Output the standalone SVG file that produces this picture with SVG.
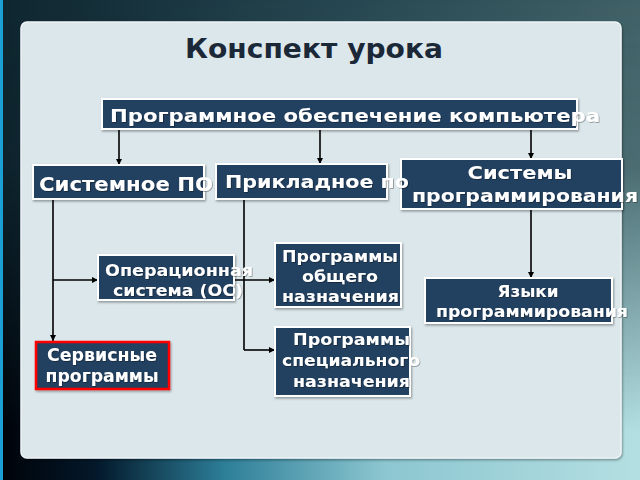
<svg xmlns="http://www.w3.org/2000/svg" width="640" height="480" viewBox="0 0 640 480">
<defs>
<linearGradient id="bgH" x1="0" y1="0" x2="1" y2="0">
<stop offset="0" stop-color="#000308"/>
<stop offset="0.15" stop-color="#03182a"/>
<stop offset="0.35" stop-color="#2d7e98"/>
<stop offset="0.6" stop-color="#8cc6d0"/>
<stop offset="1" stop-color="#b4dfe2"/>
</linearGradient>
<linearGradient id="topH" x1="0" y1="0" x2="1" y2="0">
<stop offset="0" stop-color="#0e2630"/>
<stop offset="0.5" stop-color="#24444e"/>
<stop offset="1" stop-color="#3f6066"/>
</linearGradient>
<linearGradient id="fadeV" x1="0" y1="0" x2="0" y2="1">
<stop offset="0" stop-color="#fff" stop-opacity="1"/>
<stop offset="0.35" stop-color="#fff" stop-opacity="0.9"/>
<stop offset="0.9" stop-color="#fff" stop-opacity="0"/>
</linearGradient>
<mask id="topMask"><rect width="640" height="480" fill="url(#fadeV)"/></mask>
<filter id="sh" x="-10%" y="-10%" width="130%" height="140%">
<feDropShadow dx="1" dy="1.5" stdDeviation="1" flood-color="#000" flood-opacity="0.35"/>
</filter>
<filter id="tsh" x="-10%" y="-20%" width="130%" height="150%">
<feDropShadow dx="0.8" dy="0.8" stdDeviation="0.7" flood-color="#000" flood-opacity="0.4"/>
</filter>
<marker id="ah" viewBox="0 0 10 10" refX="10" refY="5" markerWidth="6" markerHeight="6" markerUnits="userSpaceOnUse" orient="auto">
<path d="M0,0 L10,5 L0,10 z" fill="#000"/>
</marker>
<style>
.box{fill:#243f5f;stroke:#ffffff;stroke-width:2;filter:url(#sh)}
.red{stroke:#ff0000;stroke-width:2.5}
.t{font-family:"DejaVu Sans","Noto Sans",sans-serif;font-weight:bold;fill:#ffffff;filter:url(#tsh)}
.c{fill:none;stroke:#000;stroke-width:1.6}
.ca{fill:none;stroke:#000;stroke-width:1.6;marker-end:url(#ah)}
</style>
</defs>

<rect width="640" height="480" fill="url(#bgH)"/>
<rect width="640" height="480" fill="url(#topH)" mask="url(#topMask)"/>
<rect x="0" y="0" width="3" height="480" fill="#1b9fd4"/>

<rect x="21" y="22" width="600" height="436" rx="6" fill="#dbe7eb" stroke="#eef4f6" stroke-width="1.5" filter="url(#sh)"/>

<text x="314" y="58" text-anchor="middle" font-family="DejaVu Sans, sans-serif" font-weight="bold" font-size="27" fill="#1b2838" textLength="258" lengthAdjust="spacingAndGlyphs">Конспект урока</text>

<g id="connectors">
<line class="ca" x1="119" y1="130" x2="119" y2="165"/>
<line class="ca" x1="320" y1="130" x2="320" y2="164"/>
<line class="ca" x1="531" y1="130" x2="531" y2="159"/>
<line class="ca" x1="531" y1="210" x2="531" y2="278"/>
<line class="ca" x1="53" y1="200" x2="53" y2="341"/>
<line class="ca" x1="53" y1="280" x2="98" y2="280"/>
<polyline class="c" points="244,200 244,350"/>
<line class="ca" x1="234" y1="280" x2="275" y2="280"/>
<polyline class="ca" points="244,350 275,350"/>
</g>

<g id="n-po">
<rect class="box" x="102" y="99" width="475" height="30"/>
<text class="t" x="110" y="122" font-size="18" textLength="490" lengthAdjust="spacingAndGlyphs">Программное обеспечение компьютера</text>
</g>

<g id="n-progsys">
<rect class="box" x="401" y="159" width="221" height="50"/>
<text class="t" x="520" y="179" font-size="18" text-anchor="middle" textLength="105" lengthAdjust="spacingAndGlyphs">Системы</text>
<text class="t" x="412" y="202" font-size="18" textLength="226" lengthAdjust="spacingAndGlyphs">программирования</text>
</g>

<g id="n-applied">
<rect class="box" x="216" y="164" width="171" height="35"/>
<text class="t" x="225" y="188" font-size="18" textLength="184" lengthAdjust="spacingAndGlyphs">Прикладное по</text>
</g>

<g id="n-system">
<rect class="box" x="33" y="165" width="171" height="34"/>
<text class="t" x="39" y="191" font-size="19" textLength="174" lengthAdjust="spacingAndGlyphs">Системное ПО</text>
</g>

<g id="n-general">
<rect class="box" x="275" y="243" width="126" height="64"/>
<text class="t" x="282" y="262" font-size="16" textLength="116" lengthAdjust="spacingAndGlyphs">Программы</text>
<text class="t" x="302" y="282" font-size="16" textLength="76" lengthAdjust="spacingAndGlyphs">общего</text>
<text class="t" x="282" y="302" font-size="16" textLength="117" lengthAdjust="spacingAndGlyphs">назначения</text>
</g>

<g id="n-os">
<rect class="box" x="98" y="255" width="136" height="45"/>
<text class="t" x="105" y="276" font-size="16" textLength="148" lengthAdjust="spacingAndGlyphs">Операционная</text>
<text class="t" x="113" y="296" font-size="16" textLength="130" lengthAdjust="spacingAndGlyphs">система (ОС)</text>
</g>

<g id="n-special">
<rect class="box" x="275" y="327" width="135" height="69"/>
<text class="t" x="293" y="345" font-size="16" textLength="117" lengthAdjust="spacingAndGlyphs">Программы</text>
<text class="t" x="282" y="366" font-size="16" textLength="138" lengthAdjust="spacingAndGlyphs">специального</text>
<text class="t" x="293" y="387" font-size="16" textLength="117" lengthAdjust="spacingAndGlyphs">назначения</text>
</g>

<g id="n-lang">
<rect class="box" x="425" y="278" width="187" height="45"/>
<text class="t" x="528" y="297" font-size="16" text-anchor="middle" textLength="61" lengthAdjust="spacingAndGlyphs">Языки</text>
<text class="t" x="436" y="317" font-size="16" textLength="192" lengthAdjust="spacingAndGlyphs">программирования</text>
</g>

<g id="n-service">
<rect class="box red" x="36" y="342" width="133" height="47"/>
<text class="t" x="102" y="361" font-size="17" text-anchor="middle" textLength="110" lengthAdjust="spacingAndGlyphs">Сервисные</text>
<text class="t" x="102" y="382" font-size="17" text-anchor="middle" textLength="113" lengthAdjust="spacingAndGlyphs">программы</text>
</g>
</svg>
